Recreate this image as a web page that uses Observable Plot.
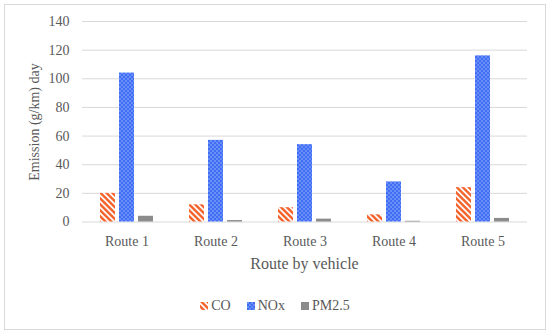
<!DOCTYPE html>
<html>
<head>
<meta charset="utf-8">
<script src="https://cdn.jsdelivr.net/npm/d3@7"></script>
<script src="https://cdn.jsdelivr.net/npm/@observablehq/plot@0.6"></script>
<style>
  html, body { margin: 0; padding: 0; background: #fff; }
  #wrap { position: relative; width: 550px; height: 334px; overflow: hidden; font-family: "Liberation Serif", serif; color: #595959; }
  #border { position: absolute; left: 4px; top: 4px; width: 542px; height: 326px; box-sizing: border-box; border: 1px solid #d9d9d9; }
  #chart { position: absolute; left: 0; top: 0; }
  #chart text { font-family: "Liberation Serif", serif; }
  .ytitle { position: absolute; left: 34.5px; top: 121.5px; transform: translate(-50%, -50%) rotate(-90deg); white-space: nowrap; font-size: 14px; }
  .xtitle { position: absolute; left: 304.5px; top: 264px; transform: translate(-50%, -50%); white-space: nowrap; font-size: 16px; }
  #legend { position: absolute; left: 0; top: 306px; width: 550px; transform: translateY(-50%); display: flex; justify-content: center; font-size: 14px; }
  #legend .item { display: flex; align-items: center; margin: 0 8px; }
  #legend svg { margin-right: 3px; }
</style>
</head>
<body>
<div id="wrap">
  <div id="border"></div>
  <div id="chart"></div>
  <div class="ytitle">Emission (g/km) day</div>
  <div class="xtitle">Route by vehicle</div>
  <div id="legend"></div>
</div>
<script>
const routes = ["Route 1", "Route 2", "Route 3", "Route 4", "Route 5"];
const pollutants = ["CO", "NOx", "PM2.5"];
const coValues = [20, 12, 10, 5, 24];
const noxValues = [104, 57, 54, 28, 116];
const pmValues = [4, 1, 2, 0.5, 2.5];
const yTicks = [0, 20, 40, 60, 80, 100, 120, 140];

const fills = { "CO": "url(#patCO)", "NOx": "url(#patNOx)", "PM2.5": "#8c8c8c" };
const seriesValues = { "CO": coValues, "NOx": noxValues, "PM2.5": pmValues };

const rows = routes.flatMap((r, i) => pollutants.map(p => ({ route: r, pollutant: p, value: seriesValues[p][i] })));

const defs = `<defs>
  <pattern id="patCO" patternUnits="userSpaceOnUse" width="4.2" height="4.2" patternTransform="rotate(-45)">
    <rect width="4.2" height="4.2" fill="#ffffff"/>
    <rect width="2.4" height="4.2" fill="#f4622a"/>
  </pattern>
  <pattern id="patNOx" patternUnits="userSpaceOnUse" width="4" height="4">
    <rect width="4" height="4" fill="#3f6ef5"/>
    <rect x="0.5" y="0.5" width="1" height="1" fill="#e8eeff"/>
    <rect x="2.5" y="2.5" width="1" height="1" fill="#e8eeff"/>
  </pattern>
</defs>`;

const chart = Plot.plot({
  width: 550,
  height: 280,
  marginLeft: 81,
  marginRight: 22,
  marginTop: 21,
  marginBottom: 58.5,
  style: { fontFamily: "Liberation Serif, serif", fontSize: "14px", color: "#595959", background: "transparent", overflow: "visible" },
  fx: { domain: routes, padding: 0, label: null, axis: "bottom", tickSize: 0, tickPadding: 14 },
  x: { domain: pollutants, paddingInner: 0.2, paddingOuter: 0.835, axis: null },
  y: { domain: [0, 140], ticks: yTicks, label: null, tickSize: 0, tickPadding: 13 },
  marks: [
    Plot.gridY(yTicks, { stroke: "#d9d9d9", strokeOpacity: 1, strokeWidth: 1 }),
    ...pollutants.map(p => Plot.barY(rows.filter(d => d.pollutant === p), {
      fx: "route", x: "pollutant", y: "value", fill: fills[p]
    }))
  ]
});
chart.insertAdjacentHTML("afterbegin", defs);
chart.querySelectorAll("text").forEach(t => { t.setAttribute("fill", "#595959"); t.style.fontFamily = "Liberation Serif, serif"; t.style.fontSize = "14px"; });
document.getElementById("chart").appendChild(chart);

// legend
const legend = document.getElementById("legend");
pollutants.forEach(p => {
  const item = document.createElement("div");
  item.className = "item";
  item.innerHTML = `<svg width="8" height="8">${defs}<rect width="8" height="8" fill="${fills[p]}"/></svg><span>${p}</span>`;
  legend.appendChild(item);
});
</script>
</body>
</html>
